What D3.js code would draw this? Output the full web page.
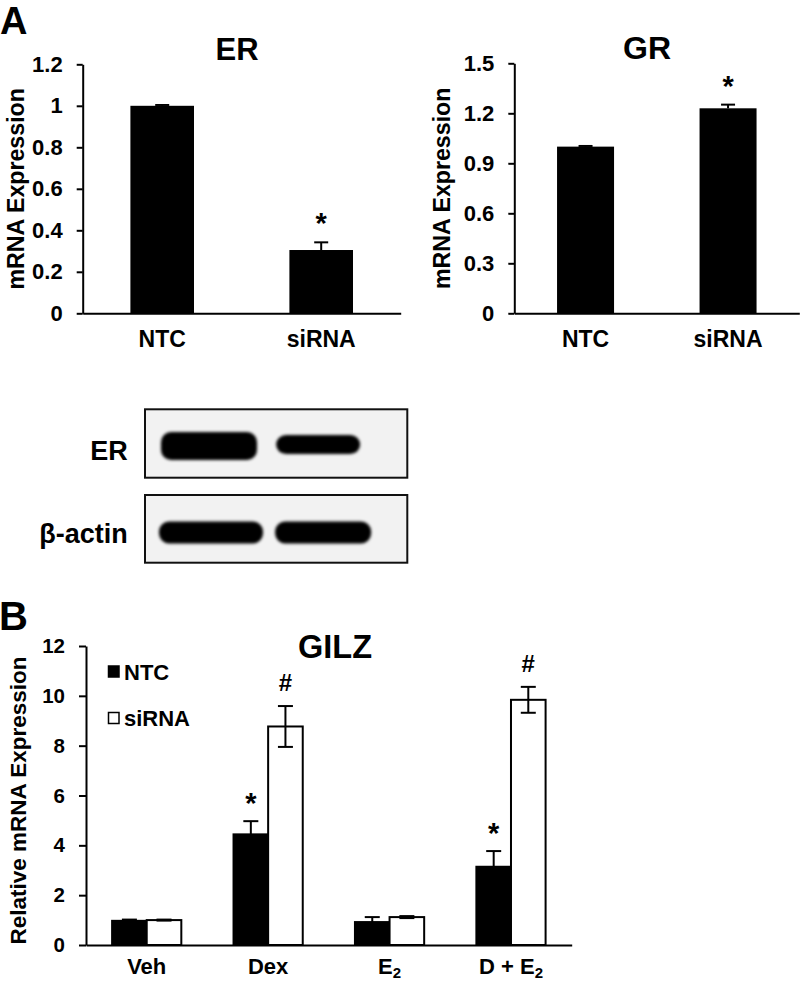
<!DOCTYPE html>
<html>
<head>
<meta charset="utf-8">
<script src="https://cdn.jsdelivr.net/npm/d3@7"></script>
<style>
  html, body { margin: 0; padding: 0; background: #fff; }
  svg text { font-family: "Liberation Sans", Arial, Helvetica, sans-serif; font-weight: bold; fill: #000; }
</style>
</head>
<body>
<svg id="chart" width="800" height="988"></svg>
<script>
// ---------- DATA ----------
const erCategories = ["NTC", "siRNA"];
const erValues = [1.0, 0.305];
const erErrors = [0.004, 0.037];
const erMarks = ["", "*"];
const erTicks = [0, 0.2, 0.4, 0.6, 0.8, 1, 1.2];

const grCategories = ["NTC", "siRNA"];
const grValues = [1.0, 1.23];
const grErrors = [0.004, 0.022];
const grMarks = ["", "*"];
const grTicks = [0, 0.3, 0.6, 0.9, 1.2, 1.5];

const blotLanes = ["NTC", "siRNA"];
const blotER = [1.0, 0.68];
const blotActin = [1.0, 1.0];

const gilzCategories = ["Veh", "Dex", "E2", "D + E2"];
const gilzSeries = ["NTC", "siRNA"];
const gilzNTC = [0.97, 4.44, 0.92, 3.14];
const gilzNTCErr = [0.05, 0.53, 0.20, 0.63];
const gilzSiRNA = [1.0, 8.77, 1.12, 9.84];
const gilzSiRNAErr = [0.02, 0.82, 0.04, 0.52];
const gilzNTCMarks = ["", "*", "", "*"];
const gilzSiRNAMarks = ["", "#", "", "#"];
const gilzTicks = [0, 2, 4, 6, 8, 10, 12];

// ---------- DRAW ----------
const svg = d3.select("#chart");

function fmt(d) { return d3.format("~g")(d); }

function simpleBarChart(opts) {
  const g = svg.append("g");
  const x = d3.scaleBand().domain(opts.cats).range([opts.x0, opts.x1])
    .paddingInner(0.6).paddingOuter(0.3);
  const y = d3.scaleLinear().domain([0, opts.max]).range([opts.yBottom, opts.yTop]);

  // x axis
  const xa = g.append("g").attr("transform", `translate(0,${opts.yBottom})`)
    .call(d3.axisBottom(x).tickSize(0).tickSizeOuter(0).tickPadding(17));
  xa.select(".domain").attr("stroke", "#000").attr("stroke-width", 2);
  xa.selectAll("text").style("font-size", "23px");

  // bars
  g.selectAll("rect.bar").data(opts.cats).join("rect")
    .attr("x", d => x(d)).attr("width", x.bandwidth())
    .attr("y", (d, i) => y(opts.values[i]))
    .attr("height", (d, i) => y(0) - y(opts.values[i]))
    .attr("fill", "#000");

  // error bars (upper)
  opts.cats.forEach((c, i) => {
    const cx = x(c) + x.bandwidth() / 2;
    const top = y(opts.values[i] + opts.errors[i]);
    g.append("line").attr("x1", cx).attr("x2", cx).attr("y1", y(opts.values[i])).attr("y2", top)
      .attr("stroke", "#000").attr("stroke-width", 2);
    g.append("line").attr("x1", cx - 7).attr("x2", cx + 7).attr("y1", top).attr("y2", top)
      .attr("stroke", "#000").attr("stroke-width", 2);
    if (opts.marks[i]) {
      g.append("text").attr("x", cx).attr("y", top - 24 + 15)
        .attr("text-anchor", "middle").style("font-size", "29px").text(opts.marks[i]);
    }
  });

  // y axis
  const ya = g.append("g").attr("transform", `translate(${opts.x0},0)`)
    .call(d3.axisLeft(y).tickValues(opts.ticks).tickFormat(fmt).tickSize(6).tickSizeOuter(0).tickPadding(14));
  ya.select(".domain").attr("stroke", "#000").attr("stroke-width", 2);
  ya.selectAll(".tick line").attr("stroke", "#000").attr("stroke-width", 2);
  ya.selectAll("text").style("font-size", "22px");

  // y label
  g.append("text").attr("transform", `translate(${opts.ylabX},${(opts.yTop + opts.yBottom) / 2}) rotate(-90)`)
    .attr("text-anchor", "middle").style("font-size", "23.2px").text("mRNA Expression");

  // title
  g.append("text").attr("x", opts.titleX).attr("y", opts.titleY).attr("text-anchor", "middle")
    .style("font-size", opts.titleSize + "px").text(opts.title);
}

// Panel letters
svg.append("text").attr("x", 0).attr("y", 34).style("font-size", "38px").text("A");
svg.append("text").attr("x", -1).attr("y", 630).style("font-size", "40px").text("B");

simpleBarChart({
  cats: erCategories, values: erValues, errors: erErrors, marks: erMarks, ticks: erTicks,
  max: 1.2, x0: 82.7, x1: 400.7, yBottom: 313.3, yTop: 64.3, ylabX: 24,
  title: "ER", titleX: 237, titleY: 59.5, titleSize: 31
});
simpleBarChart({
  cats: grCategories, values: grValues, errors: grErrors, marks: grMarks, ticks: grTicks,
  max: 1.5, x0: 514.3, x1: 799.3, yBottom: 313.3, yTop: 63.3, ylabX: 450,
  title: "GR", titleX: 647, titleY: 58.5, titleSize: 32
});

// ---------- Western blot ----------
const defs = svg.append("defs");
defs.append("filter").attr("id", "blur").attr("x", "-20%").attr("y", "-60%").attr("width", "140%").attr("height", "220%")
  .append("feGaussianBlur").attr("stdDeviation", 1.8);

const blotX = d3.scaleBand().domain(blotLanes).range([160, 376]).paddingInner(0.14).paddingOuter(0);
const blotRows = [
  { label: "ER", top: 409.3, bottom: 477.7, vals: blotER, hmax: 28, dx: [1, 0], w: [96, 84], cy: [446, 444.5], ty: 460 },
  { label: "\u03b2-actin", top: 495, bottom: 562.7, vals: blotActin, hmax: 22, dx: [-1, -1], w: [104, 96], cy: [532.5, 532.5], ty: 542.5 }
];
blotRows.forEach(row => {
  const g = svg.append("g");
  g.append("rect").attr("x", 145).attr("y", row.top).attr("width", 407.3 - 145).attr("height", row.bottom - row.top)
    .attr("fill", "#f2f2f2").attr("stroke", "#111").attr("stroke-width", 2);
  const h = d3.scaleLinear().domain([0, 1]).range([0, row.hmax]);
  g.selectAll("rect.band").data(blotLanes).join("rect")
    .attr("x", (d, i) => blotX(d) + row.dx[i])
    .attr("width", (d, i) => row.w[i])
    .attr("y", (d, i) => row.cy[i] - h(row.vals[i]) / 2)
    .attr("height", (d, i) => h(row.vals[i]))
    .attr("rx", 10).attr("ry", 10)
    .attr("fill", "#050505").attr("filter", "url(#blur)");
  g.append("text").attr("x", 127.7).attr("y", row.ty).attr("text-anchor", "end")
    .style("font-size", "27px").text(row.label);
});

// ---------- GILZ grouped chart ----------
{
  const g = svg.append("g");
  const x0 = d3.scaleBand().domain(gilzCategories).range([86, 571.7]).paddingInner(0.43).paddingOuter(0.215);
  const x1 = d3.scaleBand().domain(gilzSeries).range([0, x0.bandwidth()]);
  const y = d3.scaleLinear().domain([0, 12]).range([945, 646]);

  const xa = g.append("g").attr("transform", "translate(0,945)")
    .call(d3.axisBottom(x0).tickSize(0).tickSizeOuter(0).tickPadding(13));
  xa.select(".domain").attr("stroke", "#000").attr("stroke-width", 2);
  xa.selectAll("text").style("font-size", "22px").each(function(d) {
    const t = d3.select(this);
    if (d.endsWith("E2")) {
      t.text(null);
      t.append("tspan").text(d.slice(0, -1));
      t.append("tspan").attr("dy", "0.3em").style("font-size", "15px").text("2");
    }
  });

  const seriesData = [
    { name: "NTC", vals: gilzNTC, errs: gilzNTCErr, marks: gilzNTCMarks, fill: "#000" },
    { name: "siRNA", vals: gilzSiRNA, errs: gilzSiRNAErr, marks: gilzSiRNAMarks, fill: "#fff" }
  ];
  seriesData.forEach(s => {
    g.selectAll(null).data(gilzCategories).join("rect")
      .attr("x", d => x0(d) + x1(s.name)).attr("width", x1.bandwidth())
      .attr("y", (d, i) => y(s.vals[i])).attr("height", (d, i) => y(0) - y(s.vals[i]))
      .attr("fill", s.fill).attr("stroke", "#000").attr("stroke-width", 2);
  });
  seriesData.forEach(s => {
    gilzCategories.forEach((c, i) => {
      const cx = x0(c) + x1(s.name) + x1.bandwidth() / 2;
      const top = y(s.vals[i] + s.errs[i]);
      const bot = s.name === "siRNA" ? y(s.vals[i] - s.errs[i]) : y(s.vals[i]);
      g.append("line").attr("x1", cx).attr("x2", cx).attr("y1", bot).attr("y2", top)
        .attr("stroke", "#000").attr("stroke-width", 2);
      g.append("line").attr("x1", cx - 7.5).attr("x2", cx + 7.5).attr("y1", top).attr("y2", top)
        .attr("stroke", "#000").attr("stroke-width", 2);
      if (s.name === "siRNA") {
        g.append("line").attr("x1", cx - 7.5).attr("x2", cx + 7.5).attr("y1", bot).attr("y2", bot)
          .attr("stroke", "#000").attr("stroke-width", 2);
      }
      const m = s.marks[i];
      if (m) {
        g.append("text").attr("x", cx).attr("y", m === "*" ? top - 23 + 15 : top - 24 + 9)
          .attr("text-anchor", "middle").style("font-size", m === "*" ? "29px" : "24px").text(m);
      }
    });
  });

  const ya = g.append("g").attr("transform", "translate(86,0)")
    .call(d3.axisLeft(y).tickValues(gilzTicks).tickSize(7).tickSizeOuter(0).tickPadding(14));
  ya.select(".domain").attr("stroke", "#000").attr("stroke-width", 2);
  ya.selectAll(".tick line").attr("stroke", "#000").attr("stroke-width", 2);
  ya.selectAll("text").style("font-size", "20.5px");

  g.append("text").attr("transform", "translate(26,800.5) rotate(-90)")
    .attr("text-anchor", "middle").style("font-size", "22.5px").text("Relative mRNA Expression");

  g.append("text").attr("x", 335).attr("y", 657.5).attr("text-anchor", "middle")
    .style("font-size", "32.5px").text("GILZ");

  // legend
  const leg = g.append("g");
  seriesData.forEach((s, i) => {
    const ly = [671.5, 718][i];
    leg.append("rect").attr("x", 108.5).attr("y", ly - 5.5).attr("width", 10.5).attr("height", 11)
      .attr("fill", s.fill).attr("stroke", "#000").attr("stroke-width", 1.5);
    leg.append("text").attr("x", 124).attr("y", ly + 8).style("font-size", "22px").text(s.name);
  });
}
</script>
</body>
</html>
